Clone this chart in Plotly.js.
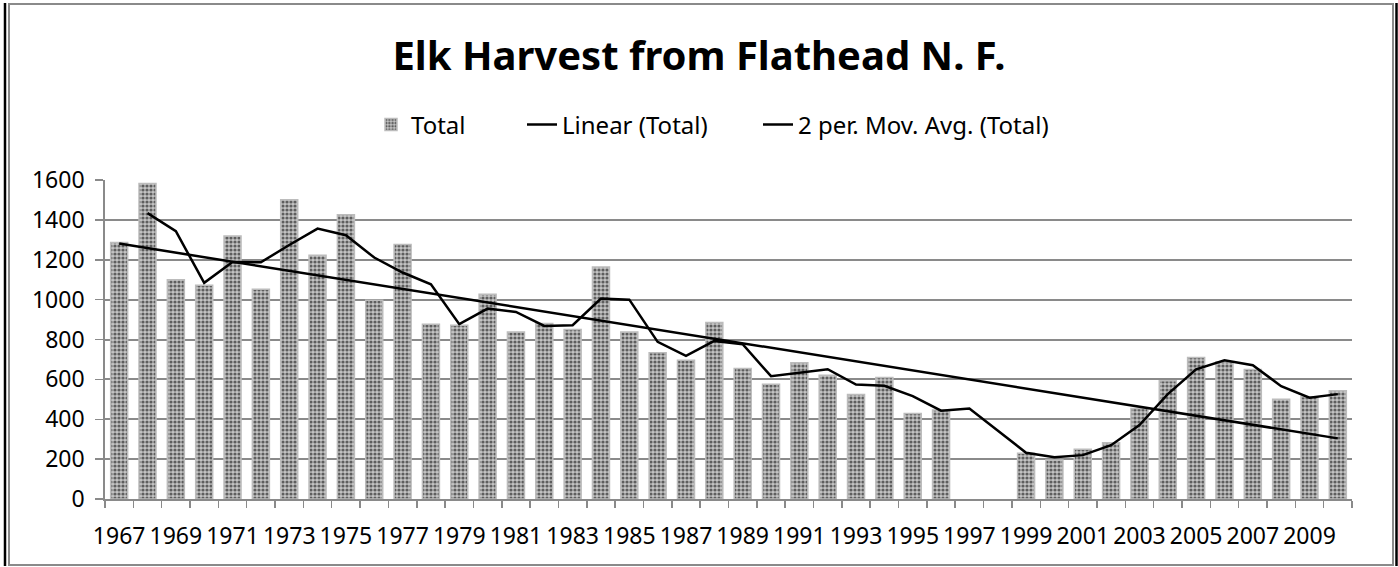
<!DOCTYPE html>
<html><head><meta charset="utf-8">
<script src="https://cdn.plot.ly/plotly-3.0.1.min.js"></script>
<style>html,body{margin:0;padding:0;background:#fff}#chart{width:1398px;height:567px}</style>
</head><body><div id="chart"></div>
<script>
const years = ['1967','1968','1969','1970','1971','1972','1973','1974','1975','1976','1977','1978','1979','1980','1981','1982','1983','1984','1985','1986','1987','1988','1989','1990','1991','1992','1993','1994','1995','1996','1997','1998','1999','2000','2001','2002','2003','2004','2005','2006','2007','2008','2009','2010'];
const totals = [1287,1582,1100,1072,1319,1052,1501,1222,1426,997,1277,877,872,1027,838,880,850,1164,838,733,696,885,655,576,683,621,524,610,429,446,null,null,229,195,249,282,454,593,710,688,650,500,513,543];
const maYears = ['1968','1969','1970','1971','1972','1973','1974','1975','1976','1977','1978','1979','1980','1981','1982','1983','1984','1985','1986','1987','1988','1989','1990','1991','1992','1993','1994','1995','1996','1997','1999','2000','2001','2002','2003','2004','2005','2006','2007','2008','2009','2010'];
const maValues = [1434,1343,1084,1189,1187,1274,1356,1323,1211,1136,1077,877,955,938,868,872,1005,1000,788,718,793,776,616,633,651,574,568,516,443,454,232,209,220,270,371,526,650,696,671,566,508,526];
const trendYears = ['1967','2010'];
const trendValues = [1281,304];
const yTicks = [0,200,400,600,800,1000,1200,1400,1600];
const xTickText = years.map((y,i)=> i%2===0 ? y : '');

const W=1398,H=567,L=105,R=1352,T=180,B=499;
const px=v=>(v-L)/(R-L), py=v=>(B-v)/(B-T);
const gray='#8a8a8a';
const font={family:'Noto Sans, sans-serif',size:23,color:'#000'};

const traces=[
 {type:'bar',name:'Total',x:years,y:totals,width:0.6,legend:'legend',
  marker:{color:'#a8a8a8',line:{color:'#bcbcbc',width:1.5},
   pattern:{shape:'.',fgcolor:'#5e5e5e',bgcolor:'#c4c4c4',size:4,solidity:0.5}}},
 {type:'scatter',mode:'lines',name:'Linear (Total)',x:trendYears,y:trendValues,legend:'legend2',
  line:{color:'#000',width:2.5}},
 {type:'scatter',mode:'lines',name:'2 per. Mov. Avg. (Total)',x:maYears,y:maValues,legend:'legend3',
  line:{color:'#000',width:2.5}}
];
const leg=(x)=>({orientation:'h',xref:'container',yref:'container',x:x/W,xanchor:'left',y:1-125/H,yanchor:'middle',
  font:{family:'Noto Sans, sans-serif',size:24,color:'#000'},bgcolor:'rgba(0,0,0,0)',borderwidth:0});
const layout={
 width:W,height:H,margin:{l:L,r:W-R,t:T,b:H-B},
 paper_bgcolor:'#fff',plot_bgcolor:'#fff',
 title:{text:'Elk Harvest from Flathead N. F.',font:{family:'Noto Sans, sans-serif',size:40,color:'#000',weight:'bold'},
  xref:'container',yref:'container',x:0.5,xanchor:'center',y:1-56/H,yanchor:'middle'},
 showlegend:true,
 legend:leg(371),legend2:leg(522),legend3:leg(758),
 xaxis:{type:'category',categoryorder:'array',categoryarray:years,range:[-0.5,43.5],
  tickmode:'array',tickvals:years,ticktext:xTickText,tickson:'boundaries',ticks:'outside',ticklen:7,
  tickcolor:gray,tickwidth:1.5,showline:true,linecolor:gray,linewidth:1.8,showgrid:false,
  tickfont:font,tickangle:0,ticklabelstandoff:16,automargin:false,fixedrange:true},
 yaxis:{range:[0,1600],tickmode:'array',tickvals:yTicks,ticks:'outside',ticklen:8,tickcolor:gray,tickwidth:1.5,
  showline:true,linecolor:gray,linewidth:1.8,showgrid:true,gridcolor:gray,gridwidth:2,zeroline:false,
  tickfont:font,ticklabelstandoff:6,automargin:false,fixedrange:true},
 shapes:[
  {type:'rect',xref:'paper',yref:'paper',x0:px(9),x1:px(1393),y0:py(565),y1:py(4),line:{color:gray,width:2},layer:'below'},
  {type:'line',xref:'paper',yref:'paper',x0:px(5),x1:px(5),y0:py(566),y1:py(3),line:{color:'#000',width:2.5}},
  {type:'line',xref:'paper',yref:'paper',x0:px(1396.5),x1:px(1396.5),y0:py(566),y1:py(3),line:{color:'#000',width:2.5}}
 ]
};
Plotly.newPlot('chart',traces,layout,{displayModeBar:false,staticPlot:true});
</script></body></html>
